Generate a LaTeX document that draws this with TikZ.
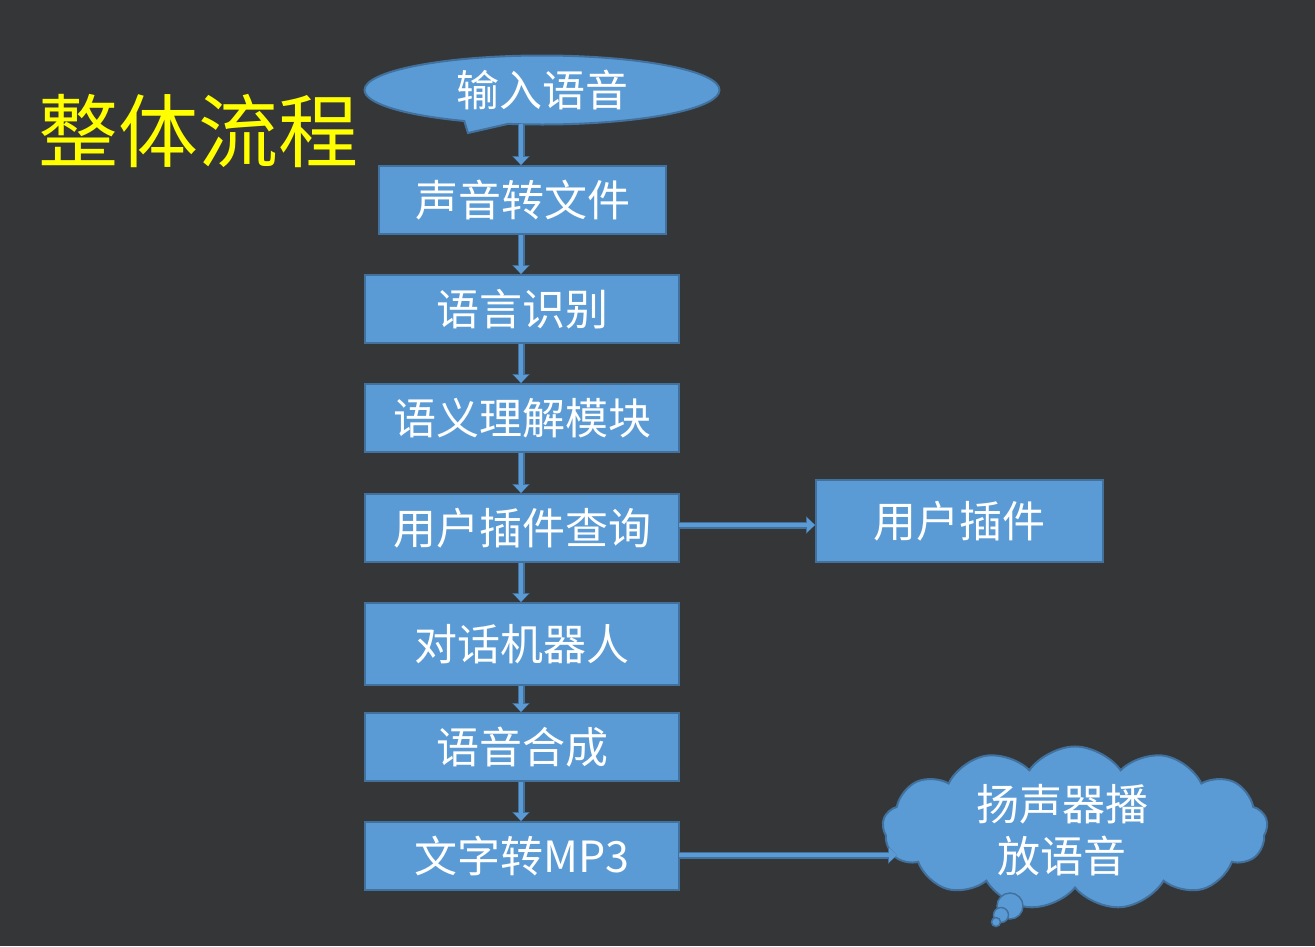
\documentclass[tikz,border=0pt]{standalone}
\usepackage{fontspec}
\setmainfont{Noto Sans CJK SC}
\usetikzlibrary{shapes.callouts,shapes.symbols,arrows.meta}
\definecolor{bg}{HTML}{353638}
\definecolor{boxfill}{HTML}{5B9BD5}
\definecolor{boxedge}{HTML}{41719C}
\definecolor{titleyellow}{HTML}{FFFF00}
\tikzset{
  stepbox/.style={draw=boxedge, fill=boxfill, line width=2pt, inner sep=0pt,
    minimum width=314pt, minimum height=68pt, text=white,
    font=\fontsize{43}{48}\selectfont},
  flowarrow/.style={draw=boxfill, line width=4.5pt, -{Triangle[length=8pt,width=14pt]},
    preaction={draw=boxedge, line width=7pt, -{Triangle[length=9pt,width=17pt]}}}
}
\begin{document}
\begin{tikzpicture}[x=1pt,y=-1pt]
\fill[bg] (0,0) rectangle (1315,946);
\useasboundingbox (0,0) rectangle (1315,946);
\node[text=titleyellow, font=\fontsize{80}{84}\selectfont, anchor=center] (title) at (198,131) {整体流程};
\node[ellipse callout, callout absolute pointer={(468,133)}, draw=boxedge, fill=boxfill,
  line width=2pt, minimum width=355pt, minimum height=69pt, inner sep=0pt, text=white,
  font=\fontsize{43}{48}\selectfont] (in) at (542,90) {输入语音};
\node[stepbox, minimum width=287pt] (b1) at (522.5,200) {声音转文件};
\node[stepbox] (b2) at (522,309) {语言识别};
\node[stepbox] (b3) at (522,418) {语义理解模块};
\node[stepbox] (b4) at (522,528) {用户插件查询};
\node[stepbox, minimum height=82pt] (b5) at (522,644) {对话机器人};
\node[stepbox] (b6) at (522,747) {语音合成};
\node[stepbox] (b7) at (522,856) {文字转MP3};
\node[stepbox, minimum width=287pt, minimum height=82pt] (plug) at (959.5,521) {用户插件};
\node[cloud, cloud puffs=13, cloud puff arc=110, aspect=2.7, draw=boxedge, fill=boxfill,
  line width=2pt, minimum width=385pt, minimum height=142pt, inner sep=0pt, text=white,
  align=center, font=\fontsize{43}{52}\selectfont, text depth=0pt] (spk) at (1075,828) {\hspace*{-26pt}扬声器播\\\hspace*{-26pt}放语音};
\node[circle, draw=boxedge, fill=boxfill, line width=1.5pt, minimum size=26pt, inner sep=0pt] (c1) at (1010,906) {};
\node[circle, draw=boxedge, fill=boxfill, line width=1.5pt, minimum size=15pt, inner sep=0pt] (c2) at (1001,915) {};
\node[circle, draw=boxedge, fill=boxfill, line width=1.5pt, minimum size=9pt, inner sep=0pt] (c3) at (996,922) {};
\coordinate (ina) at (521,124);
\draw[flowarrow] (ina) -- (b1.north -| ina);
\draw[flowarrow] (b1.south -| ina) -- (b2.north -| ina);
\draw[flowarrow] (b2.south -| ina) -- (b3.north -| ina);
\draw[flowarrow] (b3.south -| ina) -- (b4.north -| ina);
\draw[flowarrow] (b4.south -| ina) -- (b5.north -| ina);
\draw[flowarrow] (b5.south -| ina) -- (b6.north -| ina);
\draw[flowarrow] (b6.south -| ina) -- (b7.north -| ina);
\coordinate (pa) at (679,525);
\draw[flowarrow] (pa) -- (plug.west |- pa);
\coordinate (sa) at (679,855);
\coordinate (sb) at (897,855);
\draw[flowarrow] (sa) -- (sb);
\end{tikzpicture}
\end{document}
